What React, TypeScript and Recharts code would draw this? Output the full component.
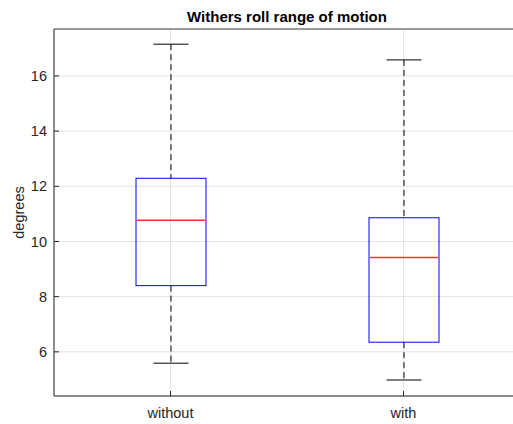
import React from 'react'
import { ComposedChart, Bar, XAxis, YAxis, CartesianGrid, ReferenceLine } from 'recharts'

const groups = ['without', 'with']
const whiskerLow = [5.59, 4.98]
const lowerQuartile = [8.4, 6.35]
const medians = [10.77, 9.42]
const upperQuartile = [12.29, 10.86]
const whiskerHigh = [17.15, 16.58]
const yTicks = [6, 8, 10, 12, 14, 16]
const yDomain = [4.4, 17.7]

const data = groups.map((name, i) => ({
  name,
  low: whiskerLow[i],
  q1: lowerQuartile[i],
  median: medians[i],
  q3: upperQuartile[i],
  high: whiskerHigh[i],
}))

const FONT = '"Liberation Sans", Arial, Helvetica, sans-serif'
const AXIS = '#262626'
const TICK_SIZE = 14.5

// draws whiskers, box and median for one group from the range bar's geometry
const BoxShape = (props: any) => {
  const { x, y, width, height, payload } = props
  const top = Math.min(y, y + height)
  const h = Math.abs(height)
  const toY = (v: number) => top + ((payload.high - v) / (payload.high - payload.low)) * h
  const cx = x + width / 2
  const capHalf = width / 4
  const yHigh = toY(payload.high)
  const yLow = toY(payload.low)
  const yQ3 = toY(payload.q3)
  const yQ1 = toY(payload.q1)
  const yMed = toY(payload.median)
  return (
    <g>
      <line x1={cx} x2={cx} y1={yHigh} y2={yQ3} stroke="#000" strokeDasharray="6 4" />
      <line x1={cx} x2={cx} y1={yQ1} y2={yLow} stroke="#000" strokeDasharray="6 4" />
      <line x1={cx - capHalf} x2={cx + capHalf} y1={yHigh} y2={yHigh} stroke="#000" />
      <line x1={cx - capHalf} x2={cx + capHalf} y1={yLow} y2={yLow} stroke="#000" />
      <rect x={x} y={yQ3} width={width} height={yQ1 - yQ3} fill="none" stroke="#0000ff" />
      <line x1={x + 0.5} x2={x + width - 0.5} y1={yMed} y2={yMed} stroke="#ff3030" strokeWidth={1.4} />
    </g>
  )
}

const YTick = ({ x, y, payload }: any) => (
  <g>
    <line x1={x + 7} x2={x + 12} y1={y} y2={y} stroke={AXIS} />
    <text x={x} y={y} dy="0.35em" textAnchor="end" fill={AXIS} fontSize={TICK_SIZE} fontFamily={FONT}>
      {payload.value}
    </text>
  </g>
)

const XTick = ({ x, y, payload }: any) => (
  <g>
    <line x1={x} x2={x} y1={y} y2={y - 5} stroke={AXIS} />
    <text x={x} y={y + 22} textAnchor="middle" fill={AXIS} fontSize={TICK_SIZE} fontFamily={FONT}>
      {payload.value}
    </text>
  </g>
)

const YLabel = ({ viewBox }: any) => {
  const lx = viewBox.x + 19
  const ly = viewBox.y + viewBox.height / 2
  return (
    <text
      x={lx}
      y={ly}
      transform={`rotate(-90, ${lx}, ${ly})`}
      textAnchor="middle"
      dominantBaseline="central"
      fill={AXIS}
      fontSize={TICK_SIZE}
      fontFamily={FONT}
    >
      degrees
    </text>
  )
}

export default function App() {
  return (
    <div style={{ position: 'absolute', left: 0, top: 0, width: 513, height: 424, overflow: 'hidden', background: '#fff' }}>
      <div
        style={{
          position: 'absolute',
          left: 87,
          width: 400,
          top: 8,
          textAlign: 'center',
          fontFamily: FONT,
          fontWeight: 'bold',
          fontSize: 15,
          color: '#000',
          lineHeight: '18px',
        }}
      >
        Withers roll range of motion
      </div>
      <ComposedChart width={530} height={424} data={data} margin={{ top: 29, right: 10, bottom: 0, left: 0 }}>
        <CartesianGrid stroke="#e3e3e3" />
        <XAxis
          dataKey="name"
          height={28}
          axisLine={{ stroke: AXIS }}
          tickLine={false}
          tickSize={0}
          tickMargin={0}
          tick={<XTick />}
          interval={0}
        />
        <YAxis
          type="number"
          domain={yDomain}
          ticks={yTicks}
          allowDataOverflow
          width={54}
          axisLine={{ stroke: AXIS }}
          tickLine={false}
          tickSize={0}
          tickMargin={7}
          tick={<YTick />}
          label={<YLabel />}
        />
        <ReferenceLine y={yDomain[1]} stroke="#404040" />
        <Bar
          dataKey={(d: any) => [d.low, d.high]}
          barSize={70}
          shape={<BoxShape />}
          isAnimationActive={false}
        />
      </ComposedChart>
    </div>
  )
}
